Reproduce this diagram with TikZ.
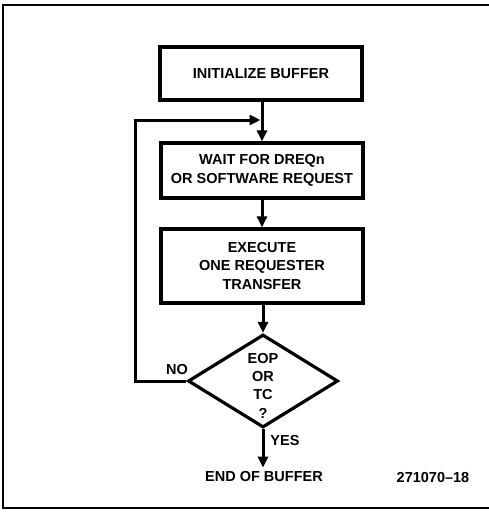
\documentclass[tikz,border=0pt]{standalone}
\usepackage{fontspec}
\setmainfont{Liberation Sans}
\usetikzlibrary{shapes.geometric,arrows.meta}
\begin{document}
\begin{tikzpicture}[x=1pt,y=-1pt,
  txt/.style={font=\fontsize{14.5}{18.5}\selectfont\bfseries,align=center,inner sep=0pt},
  box/.style={txt,draw,line width=3.2pt,minimum width=202pt},
  dec/.style={draw,diamond,line width=3.2pt,minimum width=150pt,minimum height=93pt,inner sep=0pt},
  conn/.style={line width=3pt,-{Triangle[length=11pt,width=10pt]}},
  frame/.style={line width=1.8pt}]
\useasboundingbox (0,0) rectangle (489,512);
\draw[frame] (489,5) -- (3,5) -- (3,508) -- (489,508);
\node[box,minimum height=53pt] (b1) at (261,73.5) {INITIALIZE BUFFER};
\node[box,minimum height=55pt] (b2) at (262,170.5) {WAIT FOR DREQn\\OR SOFTWARE REQUEST};
\node[box,minimum height=74pt] (b3) at (262,266) {EXECUTE\\ONE REQUESTER\\TRANSFER};
\node[dec] (d) at (263,381) {};
\node[txt,font=\fontsize{14.5}{18.3}\selectfont\bfseries] (dt) at (263,385.5) {EOP\\OR\\TC\\?};
\node[txt,inner sep=4pt] (end) at (264,477) {END OF BUFFER};
\node[txt] (no) at (177,370) {NO};
\node[txt] (yes) at (285,441) {YES};
\node[txt] (fig) at (433,478) {271070--18};
\coordinate (j) at (262,120);
\coordinate (lc) at (135,381);
\draw[conn] (b1.south -| b2.north) -- (b2.north);
\draw[conn] (b2) -- (b3);
\draw[conn] (b3.south -| d.north) -- (d.north);
\draw[conn,shorten >=1.5pt] (d.west) -- (lc) |- (j);
\draw[conn] (d.south) -- (d.south |- end.north);
\end{tikzpicture}
\end{document}
